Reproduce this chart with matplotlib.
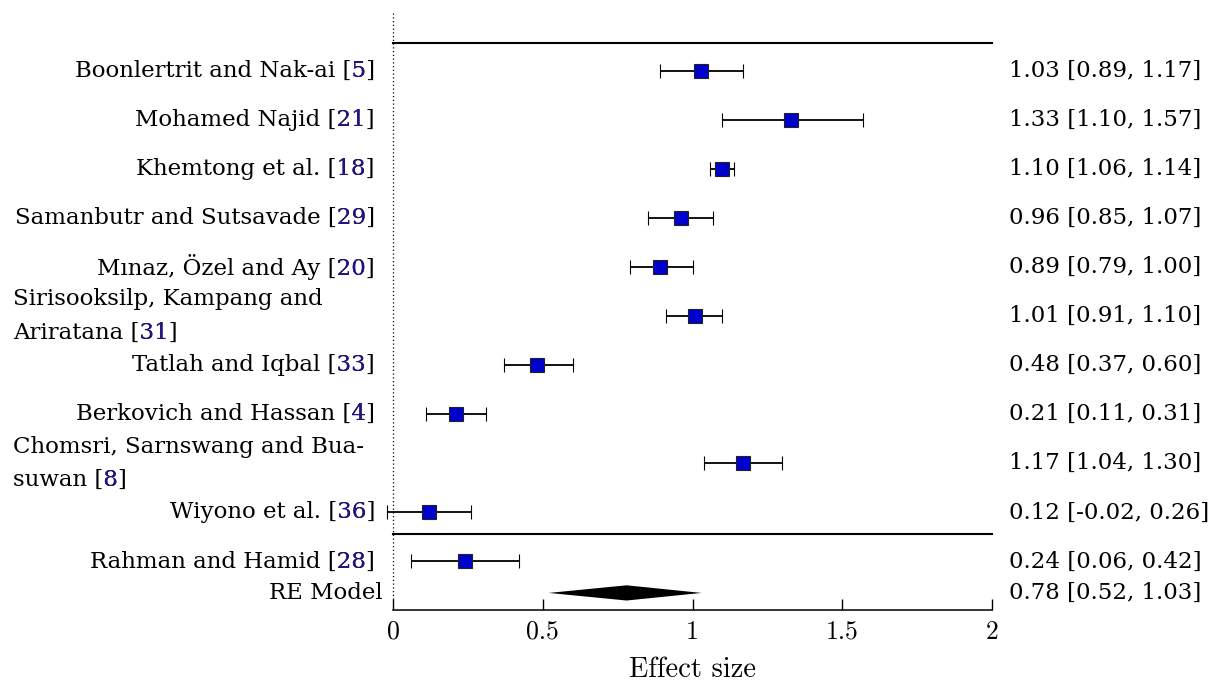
import numpy as np
import matplotlib
matplotlib.use('Agg')
import matplotlib.pyplot as plt
from matplotlib.transforms import Bbox

# forest plot data
studies = ['Boonlertrit and Nak-ai', 'Mohamed Najid', 'Khemtong et al.',
           'Samanbutr and Sutsavade', 'M\u0131naz, \u00d6zel and Ay',
           'Sirisooksilp, Kampang and\nAriratana', 'Tatlah and Iqbal',
           'Berkovich and Hassan', 'Chomsri, Sarnswang and Bua-\nsuwan',
           'Wiyono et al.', 'Rahman and Hamid']
refs = ['5', '21', '18', '29', '20', '31', '33', '4', '8', '36', '28']
est = [1.03, 1.33, 1.10, 0.96, 0.89, 1.01, 0.48, 0.21, 1.17, 0.12, 0.24]
lo = [0.89, 1.10, 1.06, 0.85, 0.79, 0.91, 0.37, 0.11, 1.04, -0.02, 0.06]
hi = [1.17, 1.57, 1.14, 1.07, 1.00, 1.10, 0.60, 0.31, 1.30, 0.26, 0.42]
re_est, re_lo, re_hi = 0.78, 0.52, 1.03
xticks = [0, 0.5, 1, 1.5, 2]
xticklabels = ['0', '0.5', '1', '1.5', '2']

FS = 16.5
SERIF = 'DejaVu Serif'
CITE = '#22128a'

fig = plt.figure(figsize=(12.19, 6.84), dpi=100)
ax = fig.add_axes([393/1219, (684-610.3)/684, (992-393)/1219, 610.3/684])
r = fig.canvas.get_renderer()

y = -np.arange(len(studies), dtype=float)
y_re = -10.64

ax.errorbar(est, y, xerr=[np.array(est)-np.array(lo), np.array(hi)-np.array(est)],
            fmt='s', ms=10.5, mfc='#0000cc', mec='#222222', mew=0.8,
            ecolor='black', elinewidth=1.3, capsize=4.7, capthick=1.1,
            clip_on=False, zorder=3)

# RE diamond
h = 0.155
ax.fill([re_lo, re_est, re_hi, re_est], [y_re, y_re+h, y_re, y_re-h],
        color='black', lw=0, clip_on=False)

# lines
ax.plot([0, 2], [0.56, 0.56], color='black', lw=1.5, clip_on=False)
ax.plot([0, 2], [-9.434, -9.434], color='black', lw=1.5, clip_on=False)
ax.plot([0, 0], [1.17, -10.78], color='black', lw=0.9, ls=(0, (1, 2)), clip_on=False)

ax.set_xlim(0, 2)
ax.set_ylim(-10.994, 1.436)
for s in ['left', 'top', 'right']:
    ax.spines[s].set_visible(False)
ax.spines['bottom'].set_bounds(0, 2)
ax.spines['bottom'].set_linewidth(1.1)
ax.set_yticks([])
ax.set_xticks(xticks)
ax.set_xticklabels(xticklabels, fontfamily='cmr10', fontsize=18.5)
ax.tick_params(axis='x', direction='in', length=8, width=1, pad=7)
ax.set_xlabel('Effect size', fontfamily='cmr10', fontsize=20.5, labelpad=9)


def tw(s):
    t = ax.text(0, 0, s, fontsize=FS, family=SERIF)
    w = t.get_window_extent(r).width
    t.remove()
    return w


def label(x, yy, text, num, ha):
    # black text, then the same text in blue clipped to the citation number
    kw = dict(ha=ha, va='center', fontsize=FS, family=SERIF, clip_on=False)
    t = ax.text(x, yy, text, **kw)
    bb = t.get_window_extent(r)
    if ha == 'right':
        x1 = bb.x1 - tw(num + ']') - 0.5
        x2 = bb.x1 - tw(']') - 0.5
    else:
        pre = text[:text.rfind('[') + 1]
        x1 = bb.x0 + tw(pre) + 0.5
        x2 = bb.x0 + tw(pre + num) + 1
    tb = ax.text(x, yy, text, **kw)
    tb.set_color(CITE)
    tb.set_clip_on(True)
    tb.set_clip_box(Bbox.from_extents(x1, bb.y0 - 5, x2, bb.y1 + 5))


xr = (375 - 393) / 299.5
xl = (13 - 393) / 299.5
for name, num, yy in zip(studies, refs, y):
    if '\n' in name:
        l1, l2 = name.split('\n')
        ax.text(xl, yy + 0.34, l1, ha='left', va='center', fontsize=FS, family=SERIF)
        label(xl, yy - 0.34, f'{l2} [{num}]', num, 'left')
    else:
        label(xr, yy, f'{name} [{num}]', num, 'right')
ax.text((383 - 393) / 299.5, y_re, 'RE Model', ha='right', va='center',
        fontsize=FS, family=SERIF)

xt = 2 + (1009 - 992) / 299.5
for e, l, u, yy in zip(est, lo, hi, y):
    ax.text(xt, yy, f'{e:.2f} [{l:.2f}, {u:.2f}]', ha='left', va='center',
            fontsize=FS, family=SERIF)
ax.text(xt, y_re, f'{re_est:.2f} [{re_lo:.2f}, {re_hi:.2f}]', ha='left', va='center',
        fontsize=FS, family=SERIF)

fig.savefig('out.png', dpi=100)
